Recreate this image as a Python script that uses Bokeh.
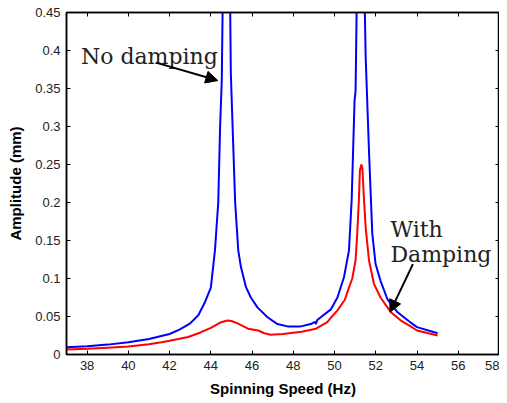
from bokeh.plotting import figure
from bokeh.models import (Range1d, LinearAxis, FixedTicker, Label, Arrow, NormalHead)
from bokeh.embed import file_html
from bokeh.resources import INLINE

# ---- data ----
freq_blue = [37.0, 38.0, 39.0, 40.0, 41.0, 42.0, 42.5, 43.0, 43.4, 43.7, 44.0, 44.2,
             44.36, 44.45, 44.53, 44.57, 44.75, 44.94, 44.97, 45.08, 45.18, 45.33,
             45.46, 45.70, 45.94, 46.26, 46.75, 47.23, 47.72, 48.36, 48.85, 49.05,
             49.10, 49.15, 49.33, 49.81, 50.14, 50.46, 50.70, 50.83, 50.97, 51.02,
             51.07, 51.27, 51.47, 51.51, 51.67, 51.83, 51.99, 52.23, 52.56, 53.04,
             53.69, 54.0, 55.0]
amp_blue = [0.0095, 0.011, 0.013, 0.016, 0.0205, 0.027, 0.033, 0.041, 0.052, 0.068, 0.088, 0.137,
            0.20, 0.30, 0.36, 0.45, 0.80, 0.45, 0.37, 0.28, 0.20, 0.137,
            0.115, 0.089, 0.075, 0.062, 0.049, 0.040, 0.037, 0.037, 0.040, 0.043,
            0.040, 0.045, 0.049, 0.059, 0.075, 0.102, 0.137, 0.203, 0.334, 0.347,
            0.45, 0.80, 0.45, 0.391, 0.268, 0.159, 0.119, 0.097, 0.073, 0.056,
            0.042, 0.036, 0.028]

freq_red = [37.0, 38.0, 39.0, 40.0, 41.0, 41.6, 42.0, 42.9, 43.5, 44.0, 44.5, 44.8,
            45.0, 45.3, 45.8, 46.3, 46.6, 46.9, 47.5, 48.4, 49.1, 49.65, 49.81,
            50.14, 50.5, 50.7, 50.86, 51.02, 51.10, 51.18, 51.23, 51.30, 51.35,
            51.43, 51.51, 51.67, 51.91, 52.23, 52.72, 53.2, 53.69, 54.0, 55.0]
amp_red = [0.0065, 0.0075, 0.009, 0.0105, 0.0135, 0.016, 0.018, 0.023, 0.029, 0.035, 0.0425, 0.0447,
           0.044, 0.041, 0.034, 0.0316, 0.028, 0.026, 0.027, 0.030, 0.034, 0.0425, 0.048,
           0.058, 0.072, 0.088, 0.100, 0.124, 0.159, 0.203, 0.242, 0.250, 0.245,
           0.203, 0.167, 0.124, 0.093, 0.075, 0.056, 0.045, 0.037, 0.0316, 0.025]

x_ticks = [38, 40, 42, 44, 46, 48, 50, 52, 54, 56, 58]
y_ticks = [0, 0.05, 0.1, 0.15, 0.2, 0.25, 0.3, 0.35, 0.4, 0.45]
y_tick_labels = ["0", "0.05", "0.1", "0.15", "0.2", "0.25", "0.3", "0.35", "0.4", "0.45"]

p = figure(width=499, height=399, output_backend="svg", toolbar_location=None,
           x_range=Range1d(37, 58), y_range=Range1d(0, 0.45),
           min_border_left=66, min_border_top=12, min_border_right=0, min_border_bottom=41)
p.grid.visible = False
p.outline_line_color = "black"
p.outline_line_width = 1.5
p.background_fill_color = "white"
p.border_fill_color = "white"

p.line(freq_blue, amp_blue, line_color="#0000ff", line_width=2)
p.line(freq_red, amp_red, line_color="#ff0000", line_width=2)

font = "Liberation Sans"
for ax in (p.xaxis[0], p.yaxis[0]):
    ax.major_tick_in = 4
    ax.major_tick_out = 0
    ax.minor_tick_line_color = None
    ax.axis_line_color = "black"
    ax.axis_line_width = 1.5
    ax.major_label_text_font = font
    ax.major_label_text_font_size = "13px"
    ax.major_label_text_color = "#222222"
    ax.axis_label_text_font = font
    ax.axis_label_text_font_size = "15px"
    ax.axis_label_text_font_style = "bold"
    ax.axis_label_text_color = "black"

p.xaxis[0].ticker = FixedTicker(ticks=x_ticks)
p.yaxis[0].ticker = FixedTicker(ticks=y_ticks)
p.yaxis[0].major_label_overrides = {t: l for t, l in zip(y_ticks, y_tick_labels)}
p.xaxis[0].axis_label = "Spinning Speed (Hz)"
p.yaxis[0].axis_label = "Amplitude (mm)"
p.xaxis[0].major_label_standoff = 6
p.yaxis[0].major_label_standoff = 6
p.xaxis[0].axis_label_standoff = 7
p.yaxis[0].axis_label_standoff = 8

top = LinearAxis(ticker=FixedTicker(ticks=x_ticks), major_tick_in=4, major_tick_out=0,
                 minor_tick_line_color=None, major_label_text_font_size="1px",
                 major_label_text_color=None,
                 major_label_overrides={t: "" for t in x_ticks},
                 major_label_standoff=0, axis_line_color="black", axis_line_width=1.5)
right = LinearAxis(ticker=FixedTicker(ticks=y_ticks), major_tick_in=4, major_tick_out=0,
                   minor_tick_line_color=None, major_label_text_font_size="1px",
                   major_label_text_color=None,
                   major_label_overrides={t: "" for t in y_ticks},
                   major_label_standoff=0, axis_line_color="black", axis_line_width=1.5)
p.add_layout(top, "above")
p.add_layout(right, "right")

serif = "DejaVu Serif"
p.add_layout(Label(x=37.70, y=0.392, text="No damping", text_font=serif,
                   text_font_size="22px", text_color="#222222", text_baseline="alphabetic"))
p.add_layout(Label(x=52.71, y=0.1645, text="With", text_font=serif,
                   text_font_size="22px", text_color="#222222", text_baseline="alphabetic"))
p.add_layout(Label(x=52.71, y=0.1316, text="Damping", text_font=serif,
                   text_font_size="22px", text_color="#222222", text_baseline="alphabetic"))

p.add_layout(Arrow(end=NormalHead(size=12, fill_color="black", line_color="black"),
                   x_start=41.34, y_start=0.384, x_end=44.34, y_end=0.3605,
                   line_width=2, line_color="black"))
p.add_layout(Arrow(end=NormalHead(size=12, fill_color="black", line_color="black"),
                   x_start=53.80, y_start=0.119, x_end=52.69, y_end=0.0557,
                   line_width=2, line_color="black"))

open("out.html", "w").write(file_html(p, INLINE))
